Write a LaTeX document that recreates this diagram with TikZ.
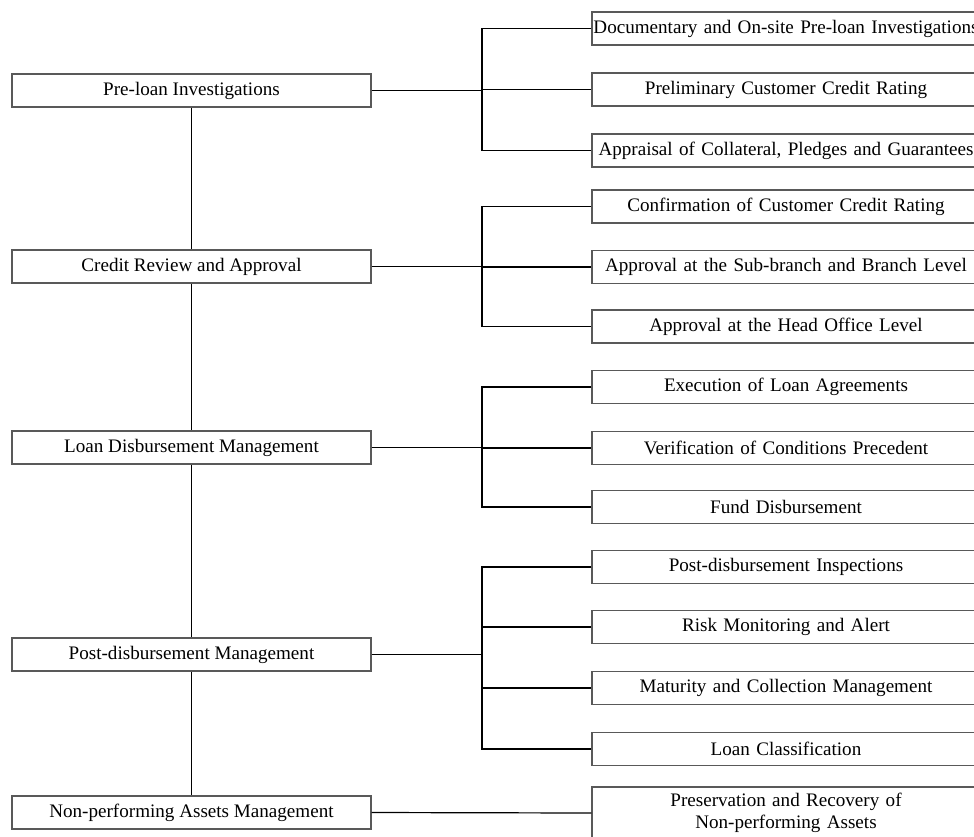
\documentclass[tikz,border=0pt]{standalone}
\usepackage{fontspec}
\setmainfont{Liberation Serif}
\begin{document}
\begin{tikzpicture}[x=0.5pt,y=-0.5pt,
  box/.style={draw=black!65,line width=0.6pt,inner sep=0pt,align=center,font=\fontsize{9.55pt}{11pt}\selectfont},
  stage/.style={box,minimum width=179.5pt,minimum height=16.5pt},
  task/.style={box,text width=194pt,minimum height=16.5pt},
  link/.style={draw=black,line width=0.6pt}]
\useasboundingbox (0,0) rectangle (974,836);
\begin{scope}
\clip (0,0) rectangle (974,836);
% stages of the credit process
\node[stage] (s1) at (191.5,90.5) {Pre-loan Investigations};
\node[stage] (s2) at (191.5,266.5) {Credit Review and Approval};
\node[stage] (s3) at (191.5,447.5) {Loan Disbursement Management};
\node[stage] (s4) at (191.5,654.5) {Post-disbursement Management};
\node[stage] (s5) at (191.5,812.5) {Non-performing Assets Management};
% tasks of each stage
\node[task] (t11) at (786,28.5) {Documentary and On-site Pre-loan Investigations};
\node[task] (t12) at (786,89.5) {Preliminary Customer Credit Rating};
\node[task] (t13) at (786,150.5) {Appraisal of Collateral, Pledges and Guarantees};
\node[task] (t21) at (786,206.5) {Confirmation of Customer Credit Rating};
\node[task] (t22) at (786,267) {Approval at the Sub-branch and Branch Level};
\node[task] (t23) at (786,326.5) {Approval at the Head Office Level};
\node[task] (t31) at (786,387) {Execution of Loan Agreements};
\node[task] (t32) at (786,448) {Verification of Conditions Precedent};
\node[task] (t33) at (786,507) {Fund Disbursement};
\node[task] (t41) at (786,567) {Post-disbursement Inspections};
\node[task] (t42) at (786,627) {Risk Monitoring and Alert};
\node[task] (t43) at (786,688) {Maturity and Collection Management};
\node[task] (t44) at (786,749) {Loan Classification};
\node[task,minimum height=26pt] (t51) at (786,813) {Preservation and Recovery of\\Non-performing Assets};
% main spine
\draw[link] (s1) -- (s2) -- (s3) -- (s4) -- (s5);
% branch buses
\coordinate (b1) at (482,0);
\draw[link] (s1.east) -- (b1 |- s1.east);
\draw[link] (t11.west) -| (b1 |- t13.west) -- (t13.west);
\draw[link] (b1 |- t12.west) -- (t12.west);
\draw[link] (s2.east) -- (b1 |- s2.east);
\draw[link] (t21.west) -| (b1 |- t23.west) -- (t23.west);
\draw[link] (b1 |- t22.west) -- (t22.west);
\draw[link] (s3.east) -- (b1 |- s3.east);
\draw[link] (t31.west) -| (b1 |- t33.west) -- (t33.west);
\draw[link] (b1 |- t32.west) -- (t32.west);
\draw[link] (s4.east) -- (b1 |- s4.east);
\draw[link] (t41.west) -| (b1 |- t44.west) -- (t44.west);
\draw[link] (b1 |- t42.west) -- (t42.west);
\draw[link] (b1 |- t43.west) -- (t43.west);
\draw[link] (s5.east) -- (t51.west);
\end{scope}
\end{tikzpicture}
\end{document}
